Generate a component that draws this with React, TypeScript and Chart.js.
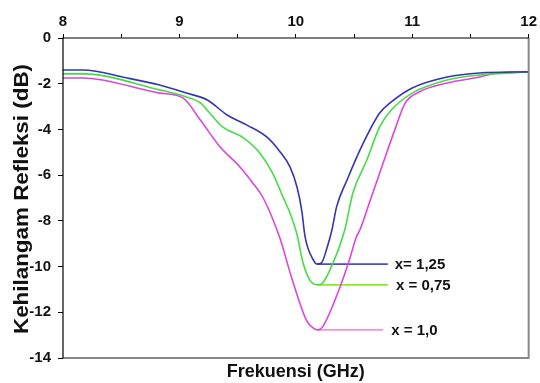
import React, { useEffect, useRef } from "react";
import { Chart, registerables } from "chart.js";

Chart.register(...registerables);

// Series x = 1,25 (blue)
const freqBlue = [8.0, 8.17, 8.55, 8.83, 9.06, 9.24, 9.41, 9.58, 9.75, 9.86, 9.95, 10.01, 10.05, 10.08, 10.15, 10.18, 10.22, 10.27, 10.31, 10.35, 10.44, 10.58, 10.72, 10.81, 11.0, 11.3, 11.58, 12.0];
const lossBlue = [-1.4, -1.4, -1.75, -2.06, -2.41, -2.71, -3.37, -3.81, -4.33, -4.95, -5.64, -6.52, -7.52, -8.71, -9.71, -9.89, -9.84, -9.14, -8.4, -7.39, -6.21, -4.59, -3.28, -2.84, -2.19, -1.71, -1.53, -1.48];

// Series x = 0,75 (green)
const freqGreen = [8.0, 8.17, 8.83, 9.06, 9.18, 9.26, 9.37, 9.55, 9.69, 9.8, 9.89, 9.95, 10.01, 10.06, 10.12, 10.19, 10.23, 10.32, 10.42, 10.49, 10.61, 10.72, 10.82, 11.0, 11.3, 11.58, 12.0];
const lossGreen = [-1.57, -1.57, -2.27, -2.58, -2.84, -3.28, -3.89, -4.37, -5.03, -5.91, -6.96, -7.66, -8.6, -9.8, -10.59, -10.8, -10.72, -9.84, -8.4, -6.78, -5.34, -3.89, -3.15, -2.41, -1.84, -1.62, -1.49];

// Series x = 1,0 (magenta)
const freqPink = [8.0, 8.17, 8.83, 9.03, 9.18, 9.35, 9.52, 9.63, 9.72, 9.86, 9.97, 10.09, 10.15, 10.19, 10.23, 10.38, 10.46, 10.52, 10.55, 10.64, 10.75, 10.85, 10.94, 11.06, 11.3, 11.58, 11.73, 12.0];
const lossPink = [-1.75, -1.75, -2.41, -2.62, -3.59, -4.77, -5.64, -6.34, -7.0, -8.71, -10.59, -12.34, -12.69, -12.77, -12.64, -10.89, -9.71, -8.71, -8.4, -7.09, -5.47, -4.02, -2.84, -2.36, -1.97, -1.71, -1.53, -1.49];

// Leader lines and labels
const labelNames = ["x= 1,25", "x = 0,75", "x = 1,0"];
const leaderStartX = [10.18, 10.19, 10.19];
const leaderEndX = [10.79, 10.79, 10.75];
const leaderY = [-9.89, -10.8, -12.77];
const labelX = [10.85, 10.86, 10.82];

const xTicksMajor = [8, 9, 10, 11, 12];
const yTicks = [0, -2, -4, -6, -8, -10, -12, -14];

const curveColors = ["#3535b0", "#44dd44", "#dd44dd"];
const leaderColors = ["#4a4acc", "#88ee22", "#ff8fcf"];

const zip = (xs: number[], ys: number[]) => xs.map((x, i) => ({ x, y: ys[i] }));

export default function App() {
  const ref = useRef<HTMLCanvasElement>(null);

  useEffect(() => {
    if (!ref.current) return;
    const font = "'Liberation Sans', Arial, sans-serif";

    const curves = [
      zip(freqBlue, lossBlue),
      zip(freqGreen, lossGreen),
      zip(freqPink, lossPink),
    ];

    const datasets: any[] = curves.map((d, i) => ({
      data: d,
      borderColor: curveColors[i],
      borderWidth: 1.6,
      pointRadius: 0,
      cubicInterpolationMode: "monotone",
      fill: false,
    }));
    labelNames.forEach((_, i) => {
      datasets.push({
        data: [
          { x: leaderStartX[i], y: leaderY[i] },
          { x: leaderEndX[i], y: leaderY[i] },
        ],
        borderColor: leaderColors[i],
        borderWidth: 1.8,
        pointRadius: 0,
        fill: false,
      });
    });

    const extras = {
      id: "extras",
      afterDraw(chart: any) {
        const { ctx, chartArea, scales } = chart;
        ctx.save();
        ctx.strokeStyle = "#888888";
        ctx.lineWidth = 2;
        ctx.beginPath();
        ctx.moveTo(chartArea.right, chartArea.top);
        ctx.lineTo(chartArea.right, chartArea.bottom);
        ctx.lineTo(chartArea.left, chartArea.bottom);
        ctx.stroke();
        ctx.strokeStyle = "#000";
        ctx.lineWidth = 1.2;
        ctx.beginPath();
        ctx.moveTo(chartArea.left, chartArea.bottom);
        ctx.lineTo(chartArea.left, chartArea.top);
        ctx.lineTo(chartArea.right, chartArea.top);
        ctx.stroke();
        ctx.fillStyle = "#111";
        ctx.font = `bold 15px ${font}`;
        ctx.textAlign = "left";
        ctx.textBaseline = "middle";
        labelNames.forEach((t, i) => {
          ctx.fillText(t, scales.x.getPixelForValue(labelX[i]), scales.y.getPixelForValue(leaderY[i]) + 1);
        });
        ctx.font = `bold 18px ${font}`;
        ctx.textAlign = "center";
        ctx.fillText("Frekuensi (GHz)", (chartArea.left + chartArea.right) / 2, 372);
        ctx.font = `bold 20px ${font}`;
        ctx.translate(22, (chartArea.top + chartArea.bottom) / 2 + 1);
        ctx.rotate(-Math.PI / 2);
        ctx.scale(1.12, 1);
        ctx.fillText("Kehilangam Refleksi (dB)", 0, 0);
        ctx.restore();
      },
    };

    const chart = new Chart(ref.current, {
      type: "line",
      data: { datasets },
      options: {
        animation: false,
        responsive: false,
        maintainAspectRatio: false,
        layout: { padding: { left: 0, right: 11, top: 0, bottom: 0 } },
        plugins: { legend: { display: false }, tooltip: { enabled: false } },
        scales: {
          x: {
            type: "linear",
            position: "top",
            min: 8,
            max: 12,
            afterFit: (s: any) => {
              s.height = 38;
            },
            afterBuildTicks: (s: any) => {
              const t: any[] = [];
              for (let v = 8; v <= 12.001; v += 0.5) t.push({ value: v });
              s.ticks = t;
            },
            ticks: {
              autoSkip: false,
              maxRotation: 0,
              padding: 3,
              color: "#111",
              font: { family: font, size: 15, weight: "bold" },
              callback: (v: any) => (xTicksMajor.includes(Number(v)) ? String(v) : ""),
            },
            grid: { drawOnChartArea: false, tickLength: 4, color: "#000", lineWidth: 1 },
            border: { display: false },
          },
          y: {
            type: "linear",
            min: -14,
            max: 0,
            afterFit: (s: any) => {
              s.width = 63;
            },
            afterBuildTicks: (s: any) => {
              s.ticks = yTicks.map((v) => ({ value: v }));
            },
            ticks: {
              autoSkip: false,
              padding: 7,
              color: "#111",
              font: { family: font, size: 15, weight: "bold" },
            },
            grid: { drawOnChartArea: false, tickLength: 5, color: "#000", lineWidth: 1 },
            border: { display: false },
          },
          x2: {
            type: "linear",
            position: "bottom",
            min: 8,
            max: 12,
            afterFit: (s: any) => {
              s.height = 25;
            },
            ticks: { display: false },
            grid: { display: false },
            border: { display: false },
          },
        },
      } as any,
      plugins: [extras],
    });
    return () => chart.destroy();
  }, []);

  return (
    <div style={{ position: "absolute", left: 0, top: 0, width: 540, height: 383, background: "#fff" }}>
      <canvas ref={ref} width={540} height={383} style={{ width: 540, height: 383 }} />
    </div>
  );
}
